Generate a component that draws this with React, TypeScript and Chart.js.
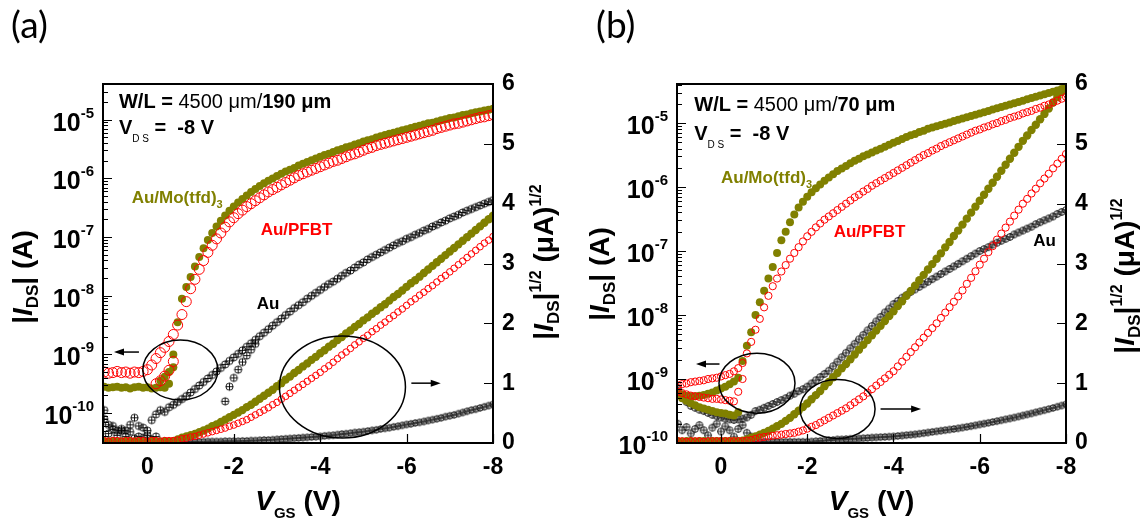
import React, { useEffect, useRef } from "react";
import { Chart, registerables } from "chart.js";
Chart.register(...registerables);

// ---------- shared axes ----------
const VGS = [
  1.0, 0.9, 0.8, 0.7, 0.6, 0.5, 0.4, 0.3, 0.2, 0.1,
  0.0, -0.1, -0.2, -0.3, -0.4, -0.5, -0.6, -0.7, -0.8, -0.9,
  -1.0, -1.1, -1.2, -1.3, -1.4, -1.5, -1.6, -1.7, -1.8, -1.9,
  -2.0, -2.1, -2.2, -2.3, -2.4, -2.5, -2.6, -2.7, -2.8, -2.9,
  -3.0, -3.1, -3.2, -3.3, -3.4, -3.5, -3.6, -3.7, -3.8, -3.9,
  -4.0, -4.1, -4.2, -4.3, -4.4, -4.5, -4.6, -4.7, -4.8, -4.9,
  -5.0, -5.1, -5.2, -5.3, -5.4, -5.5, -5.6, -5.7, -5.8, -5.9,
  -6.0, -6.1, -6.2, -6.3, -6.4, -6.5, -6.6, -6.7, -6.8, -6.9,
  -7.0, -7.1, -7.2, -7.3, -7.4, -7.5, -7.6, -7.7, -7.8, -7.9,
  -8.0,
];
const X_TICKS = [0, -2, -4, -6, -8];
const R_TICKS = [0, 1, 2, 3, 4, 5, 6];
const LOG_TICKS = [-10, -9, -8, -7, -6, -5];

// ---------- panel (a): log10 |I_DS| (A) ----------
const A_MO_LOG = [
  -9.55, -9.57, -9.56, -9.55, -9.57, -9.56, -9.58, -9.56, -9.55, -9.57,
  -9.56, -9.58, -9.57, -9.56, -9.57, -9.50, -9.00, -8.45, -8.05, -7.85,
  -7.68, -7.50, -7.34, -7.19, -7.05, -6.93, -6.82, -6.72, -6.63, -6.55,
  -6.48, -6.41, -6.35, -6.29, -6.23, -6.18, -6.13, -6.08, -6.04, -6.00,
  -5.96, -5.92, -5.88, -5.85, -5.82, -5.78, -5.75, -5.72, -5.69, -5.66,
  -5.63, -5.60, -5.58, -5.55, -5.52, -5.50, -5.47, -5.45, -5.42, -5.40,
  -5.37, -5.35, -5.33, -5.30, -5.28, -5.26, -5.24, -5.22, -5.20, -5.18,
  -5.16, -5.14, -5.12, -5.10, -5.08, -5.06, -5.05, -5.03, -5.01, -4.99,
  -4.97, -4.96, -4.94, -4.92, -4.91, -4.89, -4.87, -4.86, -4.84, -4.83,
  -4.81,
];
const A_PF_LOG = [
  -9.30, -9.32, -9.31, -9.29, -9.31, -9.30, -9.32, -9.30, -9.31, -9.29,
  -9.26, -9.18, -9.07, -8.97, -8.88, -8.78, -8.66, -8.50, -8.32, -8.10,
  -7.88, -7.72, -7.55, -7.40, -7.26, -7.14, -7.03, -6.93, -6.83, -6.74,
  -6.67, -6.60, -6.54, -6.48, -6.43, -6.38, -6.33, -6.28, -6.23, -6.19,
  -6.15, -6.11, -6.07, -6.03, -5.99, -5.95, -5.92, -5.89, -5.86, -5.83,
  -5.80, -5.77, -5.74, -5.71, -5.69, -5.66, -5.63, -5.60, -5.58, -5.55,
  -5.52, -5.49, -5.47, -5.44, -5.42, -5.40, -5.38, -5.36, -5.34, -5.32,
  -5.30, -5.28, -5.26, -5.24, -5.22, -5.20, -5.18, -5.15, -5.13, -5.11,
  -5.09, -5.07, -5.06, -5.04, -5.02, -5.00, -4.98, -4.96, -4.95, -4.93,
  -4.91,
];
const A_AU_LOG = [
  -9.95, -10.20, -10.28, -10.30, -10.27, -10.30, -10.20, -10.08, -10.22, -10.25,
  -10.30, -10.12, -10.02, -9.95, -9.98, -9.90, -9.86, -9.81, -9.76, -9.71,
  -9.65, -9.59, -9.53, -9.47, -9.41, -9.35, -9.29, -9.23, -9.17, -9.11,
  -9.05, -8.99, -8.93, -8.87, -8.81, -8.75, -8.69, -8.63, -8.57, -8.51,
  -8.45, -8.39, -8.33, -8.27, -8.21, -8.16, -8.11, -8.05, -8.00, -7.95,
  -7.90, -7.85, -7.80, -7.76, -7.71, -7.66, -7.61, -7.57, -7.52, -7.47,
  -7.43, -7.38, -7.34, -7.30, -7.26, -7.22, -7.18, -7.14, -7.10, -7.07,
  -7.03, -7.00, -6.96, -6.93, -6.89, -6.86, -6.82, -6.79, -6.75, -6.72,
  -6.68, -6.65, -6.62, -6.58, -6.55, -6.52, -6.49, -6.46, -6.43, -6.40,
  -6.37,
];
const A_MO_HOOK_V = [-0.3, -0.4, -0.5, -0.6];
const A_MO_HOOK = [-9.45, -9.38, -9.30, -9.22];
const A_PF_HOOK_V = [-0.2, -0.3, -0.4, -0.5, -0.6];
const A_PF_HOOK = [-9.50, -9.45, -9.37, -9.27, -9.12];
const A_AU_REV_V = [-1.8, -1.9, -2.0, -2.1, -2.2, -2.3, -2.4, -2.5];
const A_AU_REV = [-9.80, -9.55, -9.40, -9.26, -9.13, -9.02, -8.92, -8.82];
const A_AU_LOW_V = [1.0, 0.9, 0.8, 0.7, 0.6, 0.5, 0.4, 0.3, 0.2, 0.1, 0.0, -0.1, -0.2];
const A_AU_LOW = [-10.10, -10.35, -10.22, -10.38, -10.30, -10.40, -10.32, -10.43, -10.40, -10.42, -10.38, -10.45, -10.40];

// ---------- panel (a): |I_DS|^1/2 (uA)^1/2 ----------
const A_MO_SQ = [
  0.02, 0.02, 0.03, 0.02, 0.02, 0.03, 0.02, 0.02, 0.03, 0.02,
  0.02, 0.03, 0.02, 0.02, 0.03, 0.02, 0.03, 0.06, 0.09, 0.11,
  0.13, 0.15, 0.18, 0.21, 0.24, 0.28, 0.31, 0.35, 0.39, 0.43,
  0.47, 0.51, 0.55, 0.60, 0.64, 0.69, 0.74, 0.79, 0.84, 0.89,
  0.95, 1.00, 1.06, 1.11, 1.17, 1.22, 1.28, 1.33, 1.39, 1.44,
  1.50, 1.55, 1.61, 1.66, 1.72, 1.77, 1.83, 1.88, 1.94, 1.99,
  2.05, 2.10, 2.16, 2.21, 2.27, 2.32, 2.38, 2.44, 2.49, 2.55,
  2.61, 2.67, 2.72, 2.78, 2.84, 2.90, 2.96, 3.02, 3.08, 3.14,
  3.20, 3.26, 3.32, 3.38, 3.44, 3.50, 3.56, 3.62, 3.68, 3.74,
  3.80,
];
const A_PF_SQ = [
  0.04, 0.03, 0.04, 0.04, 0.03, 0.04, 0.04, 0.03, 0.04, 0.04,
  0.03, 0.04, 0.04, 0.03, 0.04, 0.04, 0.04, 0.05, 0.07, 0.08,
  0.10, 0.11, 0.13, 0.15, 0.17, 0.19, 0.21, 0.23, 0.25, 0.28,
  0.30, 0.33, 0.36, 0.39, 0.43, 0.47, 0.51, 0.55, 0.59, 0.64,
  0.68, 0.73, 0.78, 0.83, 0.88, 0.93, 0.98, 1.03, 1.08, 1.13,
  1.18, 1.24, 1.29, 1.35, 1.41, 1.47, 1.52, 1.58, 1.64, 1.69,
  1.75, 1.80, 1.86, 1.91, 1.97, 2.02, 2.08, 2.13, 2.19, 2.24,
  2.30, 2.36, 2.41, 2.47, 2.52, 2.58, 2.63, 2.69, 2.75, 2.80,
  2.86, 2.92, 2.98, 3.04, 3.10, 3.16, 3.22, 3.28, 3.34, 3.39,
  3.45,
];
const A_AU_SQ = [
  0.01, 0.02, 0.01, 0.01, 0.02, 0.01, 0.01, 0.02, 0.01, 0.01,
  0.01, 0.02, 0.01, 0.02, 0.01, 0.02, 0.02, 0.02, 0.02, 0.02,
  0.02, 0.02, 0.02, 0.02, 0.025, 0.025, 0.025, 0.025, 0.03, 0.03,
  0.03, 0.03, 0.035, 0.035, 0.04, 0.04, 0.045, 0.05, 0.05, 0.055,
  0.06, 0.065, 0.07, 0.075, 0.08, 0.085, 0.09, 0.095, 0.10, 0.105,
  0.11, 0.12, 0.125, 0.13, 0.14, 0.15, 0.155, 0.165, 0.175, 0.18,
  0.19, 0.20, 0.21, 0.22, 0.235, 0.245, 0.255, 0.27, 0.28, 0.295,
  0.31, 0.32, 0.335, 0.345, 0.36, 0.375, 0.39, 0.405, 0.42, 0.44,
  0.455, 0.47, 0.49, 0.51, 0.53, 0.55, 0.565, 0.585, 0.605, 0.625,
  0.645,
];

// ---------- panel (b): log10 |I_DS| (A) ----------
const B_MO_LOG = [
  -9.22, -9.24, -9.26, -9.27, -9.27, -9.26, -9.25, -9.23, -9.21, -9.18,
  -9.15, -9.12, -9.08, -9.04, -8.98, -8.72, -8.48, -8.27, -8.00, -7.80,
  -7.62, -7.43, -7.25, -7.03, -6.83, -6.70, -6.55, -6.43, -6.32, -6.23,
  -6.15, -6.08, -6.02, -5.96, -5.90, -5.85, -5.80, -5.75, -5.71, -5.67,
  -5.63, -5.59, -5.56, -5.52, -5.49, -5.46, -5.43, -5.40, -5.37, -5.34,
  -5.31, -5.28, -5.25, -5.22, -5.19, -5.17, -5.14, -5.12, -5.09, -5.07,
  -5.05, -5.03, -5.01, -4.99, -4.97, -4.95, -4.93, -4.91, -4.89, -4.87,
  -4.85, -4.83, -4.81, -4.79, -4.77, -4.75, -4.73, -4.71, -4.69, -4.67,
  -4.65, -4.63, -4.61, -4.59, -4.57, -4.55, -4.53, -4.51, -4.49, -4.47,
  -4.45,
];
const B_PF_LOG = [
  -9.10, -9.08, -9.07, -9.05, -9.04, -9.03, -9.02, -9.00, -8.99, -8.98,
  -8.96, -8.94, -8.92, -8.88, -8.83, -8.75, -8.60, -8.42, -8.23, -8.06,
  -7.88, -7.70, -7.55, -7.43, -7.32, -7.22, -7.12, -7.03, -6.94, -6.85,
  -6.77, -6.70, -6.63, -6.57, -6.51, -6.46, -6.41, -6.36, -6.31, -6.26,
  -6.21, -6.16, -6.12, -6.07, -6.03, -5.98, -5.94, -5.90, -5.86, -5.82,
  -5.78, -5.74, -5.70, -5.66, -5.62, -5.58, -5.54, -5.50, -5.47, -5.43,
  -5.40, -5.36, -5.33, -5.30, -5.27, -5.24, -5.21, -5.18, -5.15, -5.12,
  -5.10, -5.07, -5.05, -5.02, -5.00, -4.97, -4.95, -4.92, -4.90, -4.88,
  -4.85, -4.83, -4.81, -4.78, -4.76, -4.73, -4.71, -4.68, -4.65, -4.62,
  -4.59,
];
const B_AU_LOG = [
  -9.14, -9.28, -9.36, -9.42, -9.45, -9.48, -9.50, -9.53, -9.56, -9.58,
  -9.60, -9.62, -9.63, -9.64, -9.63, -9.62, -9.60, -9.56, -9.50, -9.48,
  -9.45, -9.42, -9.39, -9.36, -9.33, -9.30, -9.26, -9.23, -9.19, -9.16,
  -9.12, -9.07, -9.02, -8.97, -8.92, -8.87, -8.80, -8.73, -8.66, -8.59,
  -8.52, -8.45, -8.38, -8.31, -8.24, -8.17, -8.10, -8.03, -7.96, -7.90,
  -7.83, -7.78, -7.73, -7.69, -7.64, -7.60, -7.56, -7.52, -7.48, -7.44,
  -7.40, -7.36, -7.32, -7.28, -7.24, -7.20, -7.16, -7.12, -7.08, -7.04,
  -7.00, -6.97, -6.94, -6.90, -6.87, -6.84, -6.81, -6.78, -6.74, -6.71,
  -6.68, -6.65, -6.62, -6.58, -6.55, -6.52, -6.49, -6.46, -6.42, -6.39,
  -6.36,
];
const B_MO_LOW_V = [1.0, 0.9, 0.8, 0.7, 0.6, 0.5, 0.4, 0.3, 0.2, 0.1, 0.0, -0.1, -0.2, -0.3, -0.4];
const B_MO_LOW = [-9.25, -9.30, -9.34, -9.38, -9.41, -9.44, -9.46, -9.48, -9.50, -9.52, -9.53, -9.54, -9.56, -9.57, -9.52];
const B_PF_LOW_V = [1.0, 0.9, 0.8, 0.7, 0.6, 0.5, 0.4, 0.3, 0.2, 0.1, 0.0, -0.1, -0.2, -0.3, -0.4, -0.5];
const B_PF_LOW = [-9.20, -9.22, -9.24, -9.26, -9.27, -9.28, -9.29, -9.30, -9.31, -9.31, -9.32, -9.33, -9.34, -9.35, -9.20, -9.00];
const B_AU_LOW_V = [1.0, 0.9, 0.8, 0.7, 0.6, 0.5, 0.4, 0.3, 0.2, 0.1, 0.0, -0.1, -0.2, -0.3, -0.4, -0.5, -0.6, -0.7];
const B_AU_LOW = [-9.70, -9.80, -9.75, -9.85, -9.78, -9.72, -9.80, -9.88, -9.76, -9.70, -9.82, -9.74, -9.80, -9.90, -9.78, -9.72, -9.84, -9.90];

// ---------- panel (b): |I_DS|^1/2 ----------
const B_MO_SQ = [
  0.03, 0.02, 0.03, 0.03, 0.02, 0.03, 0.03, 0.02, 0.03, 0.03,
  0.03, 0.03, 0.03, 0.03, 0.03, 0.04, 0.06, 0.09, 0.11, 0.14,
  0.17, 0.20, 0.24, 0.28, 0.32, 0.37, 0.42, 0.48, 0.54, 0.60,
  0.66, 0.73, 0.80, 0.87, 0.95, 1.02, 1.10, 1.17, 1.25, 1.32,
  1.40, 1.48, 1.56, 1.64, 1.72, 1.80, 1.88, 1.96, 2.04, 2.12,
  2.20, 2.29, 2.37, 2.46, 2.54, 2.63, 2.72, 2.81, 2.90, 2.99,
  3.08, 3.17, 3.27, 3.36, 3.46, 3.55, 3.65, 3.75, 3.85, 3.95,
  4.05, 4.15, 4.25, 4.35, 4.45, 4.55, 4.65, 4.75, 4.85, 4.95,
  5.05, 5.14, 5.23, 5.32, 5.41, 5.50, 5.59, 5.69, 5.78, 5.87,
  5.96,
];
const B_PF_SQ = [
  0.03, 0.03, 0.02, 0.03, 0.03, 0.03, 0.02, 0.03, 0.03, 0.03,
  0.03, 0.03, 0.03, 0.03, 0.03, 0.03, 0.04, 0.05, 0.07, 0.09,
  0.10, 0.11, 0.12, 0.13, 0.14, 0.15, 0.16, 0.17, 0.19, 0.21,
  0.24, 0.27, 0.30, 0.34, 0.38, 0.42, 0.46, 0.50, 0.54, 0.58,
  0.63, 0.68, 0.73, 0.78, 0.84, 0.90, 0.96, 1.02, 1.08, 1.14,
  1.20, 1.28, 1.36, 1.44, 1.52, 1.60, 1.68, 1.76, 1.84, 1.92,
  2.00, 2.09, 2.18, 2.27, 2.36, 2.45, 2.55, 2.66, 2.76, 2.87,
  2.98, 3.08, 3.19, 3.29, 3.40, 3.50, 3.60, 3.70, 3.80, 3.90,
  4.00, 4.08, 4.17, 4.25, 4.34, 4.42, 4.50, 4.59, 4.67, 4.75,
  4.83,
];
const B_AU_SQ = [
  0.02, 0.01, 0.02, 0.02, 0.01, 0.02, 0.02, 0.01, 0.02, 0.02,
  0.02, 0.01, 0.02, 0.02, 0.02, 0.02, 0.02, 0.02, 0.02, 0.02,
  0.02, 0.02, 0.02, 0.02, 0.02, 0.02, 0.02, 0.02, 0.02, 0.02,
  0.02, 0.025, 0.03, 0.035, 0.04, 0.05, 0.05, 0.06, 0.06, 0.065,
  0.07, 0.072, 0.076, 0.08, 0.085, 0.09, 0.094, 0.098, 0.102, 0.106,
  0.11, 0.117, 0.124, 0.131, 0.138, 0.145, 0.155, 0.165, 0.175, 0.185,
  0.195, 0.205, 0.215, 0.225, 0.235, 0.245, 0.257, 0.27, 0.282, 0.295,
  0.31, 0.323, 0.337, 0.351, 0.365, 0.38, 0.395, 0.41, 0.426, 0.442,
  0.46, 0.477, 0.494, 0.512, 0.53, 0.548, 0.567, 0.586, 0.606, 0.626,
  0.646,
];

// ---------- styling ----------
const OLIVE = "#808000";
const RED = "#ff0000";
const FONT = "'Liberation Sans', Arial, Helvetica, sans-serif";
const fnt = (size: number, weight = "bold", style = "normal") => `${style} ${weight} ${size}px ${FONT}`;

type Part = { t: string; font: string; dy?: number; color?: string };

function partsWidth(ctx: CanvasRenderingContext2D, parts: Part[]) {
  let w = 0;
  for (const p of parts) {
    ctx.font = p.font;
    w += ctx.measureText(p.t).width;
  }
  return w;
}
function drawParts(ctx: CanvasRenderingContext2D, parts: Part[], x: number, y: number, align: "left" | "center" | "right") {
  const w = partsWidth(ctx, parts);
  let cx = align === "left" ? x : align === "center" ? x - w / 2 : x - w;
  ctx.textAlign = "left";
  ctx.textBaseline = "alphabetic";
  for (const p of parts) {
    ctx.font = p.font;
    ctx.fillStyle = p.color || "#000";
    ctx.fillText(p.t, cx, y + (p.dy || 0));
    cx += ctx.measureText(p.t).width;
  }
}

function oplus(r: number): HTMLCanvasElement {
  const s = Math.ceil(2 * r + 3);
  const c = document.createElement("canvas");
  c.width = s;
  c.height = s;
  const g = c.getContext("2d")!;
  g.strokeStyle = "#000";
  g.lineWidth = 0.9;
  const m = s / 2;
  g.beginPath();
  g.arc(m, m, r, 0, Math.PI * 2);
  g.stroke();
  g.beginPath();
  g.moveTo(m - r, m);
  g.lineTo(m + r, m);
  g.moveTo(m, m - r);
  g.lineTo(m, m + r);
  g.stroke();
  return c;
}

const pts = (vs: number[], ys: number[], log: boolean) =>
  vs.map((v, i) => ({ x: v, y: log ? Math.pow(10, ys[i]) : ys[i] }));

type Series = { v: number[]; y: number[]; log: boolean; kind: "red" | "olive" | "black"; r: number };

type PanelCfg = {
  left: number;
  label: string;
  labelX: number;
  wlBold: string;
  xMax: number;
  logMin: number;
  logMax: number;
  rightWidth: number;
  leftTitle: [number, number];
  rightTitle: [number, number];
  series: Series[];
  pos: { wl: [number, number]; vds: [number, number]; mo: [number, number]; pf: [number, number]; au: [number, number] };
  ellipses: { x: number; y: number; rx: number; ry: number }[];
  arrows: { x1: number; x2: number; y: number }[];
};

const PANEL_A: PanelCfg = {
  left: 0,
  label: "(a)",
  labelX: 11,
  wlBold: "190 μm",
  xMax: 1.028,
  logMin: -10.51,
  logMax: -4.39,
  rightWidth: 81,
  leftTitle: [32, 277],
  rightTitle: [553, 262],
  series: [
    { v: VGS, y: A_PF_LOG, log: true, kind: "red", r: 5 },
    { v: A_PF_HOOK_V, y: A_PF_HOOK, log: true, kind: "red", r: 5 },
    { v: VGS, y: A_PF_SQ, log: false, kind: "red", r: 3.3 },
    { v: VGS, y: A_MO_LOG, log: true, kind: "olive", r: 4 },
    { v: A_MO_HOOK_V, y: A_MO_HOOK, log: true, kind: "olive", r: 4 },
    { v: VGS, y: A_MO_SQ, log: false, kind: "olive", r: 4.2 },
    { v: VGS, y: A_AU_LOG, log: true, kind: "black", r: 3.6 },
    { v: A_AU_REV_V, y: A_AU_REV, log: true, kind: "black", r: 3.6 },
    { v: A_AU_LOW_V, y: A_AU_LOW, log: true, kind: "black", r: 3.6 },
    { v: VGS, y: A_AU_SQ, log: false, kind: "black", r: 3.2 },
  ],
  pos: { wl: [0.658, 5.6], vds: [0.658, 5.165], mo: [0.365, 4.011], pf: [-2.621, 3.477], au: [-2.529, 2.24] },
  ellipses: [
    { x: -0.762, y: 1.22, rx: 37.5, ry: 30 },
    { x: -4.515, y: 0.936, rx: 63, ry: 51 },
  ],
  arrows: [
    { x1: 0.196, x2: 0.774, y: 1.52 },
    { x1: -6.11, x2: -6.79, y: 1.0 },
  ],
};

const PANEL_B: PanelCfg = {
  left: 574,
  label: "(b)",
  labelX: 22,
  wlBold: "70 μm",
  xMax: 1.02,
  logMin: -10,
  logMax: -4.39,
  rightWidth: 82,
  leftTitle: [35, 274],
  rightTitle: [560, 276],
  series: [
    { v: VGS, y: B_PF_LOG, log: true, kind: "red", r: 3.6 },
    { v: B_PF_LOW_V, y: B_PF_LOW, log: true, kind: "red", r: 3.6 },
    { v: VGS, y: B_PF_SQ, log: false, kind: "red", r: 3.6 },
    { v: VGS, y: B_MO_LOG, log: true, kind: "olive", r: 4 },
    { v: B_MO_LOW_V, y: B_MO_LOW, log: true, kind: "olive", r: 4 },
    { v: VGS, y: B_MO_SQ, log: false, kind: "olive", r: 4.2 },
    { v: VGS, y: B_AU_LOG, log: true, kind: "black", r: 3.4 },
    { v: B_AU_LOW_V, y: B_AU_LOW, log: true, kind: "black", r: 3.4 },
    { v: VGS, y: B_AU_SQ, log: false, kind: "black", r: 3.2 },
  ],
  pos: { wl: [0.62, 5.549], vds: [0.62, 5.07], mo: [0.0, 4.346], pf: [-2.613, 3.443], au: [-7.239, 3.293] },
  ellipses: [
    { x: -0.835, y: 1.0, rx: 38, ry: 30 },
    { x: -2.703, y: 0.568, rx: 37.5, ry: 29.5 },
  ],
  arrows: [
    { x1: 0.035, x2: 0.58, y: 1.32 },
    { x1: -3.7, x2: -4.64, y: 0.568 },
  ],
};

function Panel({ cfg }: { cfg: PanelCfg }) {
  const ref = useRef<HTMLCanvasElement>(null);
  useEffect(() => {
    const canvas = ref.current!;
    const datasets = cfg.series.map((s) => {
      const base: any = {
        data: pts(s.v, s.y, s.log),
        yAxisID: s.log ? "yL" : "yR",
        showLine: false,
        pointRadius: s.r,
        pointHoverRadius: s.r,
      };
      if (s.kind === "red") {
        base.pointStyle = "circle";
        base.pointBackgroundColor = "rgba(0,0,0,0)";
        base.pointBorderColor = RED;
        base.pointBorderWidth = 1;
      } else if (s.kind === "olive") {
        base.pointStyle = "circle";
        base.pointBackgroundColor = OLIVE;
        base.pointBorderColor = OLIVE;
        base.pointBorderWidth = 0;
      } else {
        base.pointStyle = oplus(s.r);
      }
      return base;
    });

    const deco = {
      id: "deco",
      afterDraw(chart: any) {
        const { ctx, chartArea: ca, scales } = chart;
        const xs = scales.x, yl = scales.yL, yr = scales.yR;
        const X = (v: number) => xs.getPixelForValue(v);
        const Y = (s: number) => yr.getPixelForValue(s);
        ctx.save();
        ctx.strokeStyle = "#000";
        ctx.fillStyle = "#000";
        // frame
        ctx.lineWidth = 2;
        ctx.strokeRect(ca.left, ca.top, ca.right - ca.left, ca.bottom - ca.top);
        // left log ticks (inward)
        ctx.lineWidth = 1.2;
        ctx.beginPath();
        for (let d = -11; d <= -4; d++) {
          for (let m = 1; m <= 9; m++) {
            const lv = d + Math.log10(m);
            if (lv < cfg.logMin || lv > cfg.logMax) continue;
            const y = Math.round(yl.getPixelForValue(Math.pow(10, lv))) + 0.5;
            const len = m === 1 ? 9 : 5;
            ctx.moveTo(ca.left, y);
            ctx.lineTo(ca.left + len, y);
          }
        }
        // right ticks
        for (const s of R_TICKS) {
          if (s === 0 || s === 6) continue;
          const y = Math.round(Y(s)) + 0.5;
          ctx.moveTo(ca.right, y);
          ctx.lineTo(ca.right - 9, y);
        }
        // bottom ticks
        for (const v of X_TICKS) {
          const x = Math.round(X(v)) + 0.5;
          ctx.moveTo(x, ca.bottom);
          ctx.lineTo(x, ca.bottom - 9);
        }
        ctx.stroke();

        // left tick labels 10^n
        for (const d of LOG_TICKS) {
          const y = yl.getPixelForValue(Math.pow(10, d));
          drawParts(ctx, [
            { t: "10", font: fnt(25), dy: 11 },
            { t: String(d), font: fnt(15), dy: -2 },
          ], ca.left - 9, y, "right");
        }

        // axis titles
        ctx.save();
        ctx.translate(cfg.leftTitle[0], cfg.leftTitle[1]);
        ctx.rotate(-Math.PI / 2);
        drawParts(ctx, [
          { t: "|", font: fnt(28) },
          { t: "I", font: fnt(28, "bold", "italic") },
          { t: "DS", font: fnt(17), dy: 6 },
          { t: "| (A)", font: fnt(28) },
        ], 0, 0, "center");
        ctx.restore();

        ctx.save();
        ctx.translate(cfg.rightTitle[0], cfg.rightTitle[1]);
        ctx.rotate(-Math.PI / 2);
        drawParts(ctx, [
          { t: "|", font: fnt(28) },
          { t: "I", font: fnt(28, "bold", "italic") },
          { t: "DS", font: fnt(17), dy: 6 },
          { t: "|", font: fnt(28) },
          { t: "1/2", font: fnt(16), dy: -12 },
          { t: " (μA)", font: fnt(28) },
          { t: "1/2", font: fnt(16), dy: -12 },
        ], 0, 0, "center");
        ctx.restore();

        drawParts(ctx, [
          { t: "V", font: fnt(28, "bold", "italic") },
          { t: "GS", font: fnt(15), dy: 8 },
          { t: " (V)", font: fnt(28) },
        ], (ca.left + ca.right) / 2, 510, "center");

        // panel label
        drawParts(ctx, [{ t: cfg.label, font: "normal 400 37px Lato, 'Open Sans', sans-serif" }], cfg.labelX, 38, "left");

        // in-plot texts
        const P = cfg.pos;
        drawParts(ctx, [
          { t: "W/L = ", font: fnt(20) },
          { t: "4500 μm/", font: fnt(20, "normal") },
          { t: cfg.wlBold, font: fnt(20) },
        ], X(P.wl[0]), Y(P.wl[1]), "left");
        drawParts(ctx, [
          { t: "V", font: fnt(20) },
          { t: "D S", font: fnt(10, "normal"), dy: 8.5 },
          { t: " =  -8 V", font: fnt(20) },
        ], X(P.vds[0]), Y(P.vds[1]), "left");
        drawParts(ctx, [
          { t: "Au/Mo(tfd)", font: fnt(17), color: OLIVE },
          { t: "3", font: fnt(11), dy: 5, color: OLIVE },
        ], X(P.mo[0]), Y(P.mo[1]), "left");
        drawParts(ctx, [{ t: "Au/PFBT", font: fnt(17), color: RED }], X(P.pf[0]), Y(P.pf[1]), "left");
        drawParts(ctx, [{ t: "Au", font: fnt(17) }], X(P.au[0]), Y(P.au[1]), "left");

        // ellipses & arrows
        ctx.lineWidth = 1.5;
        for (const e of cfg.ellipses) {
          ctx.beginPath();
          ctx.ellipse(X(e.x), Y(e.y), e.rx, e.ry, 0, 0, Math.PI * 2);
          ctx.stroke();
        }
        for (const a of cfg.arrows) {
          const x1 = X(a.x1), x2 = X(a.x2), y = Y(a.y);
          const dir = Math.sign(x2 - x1);
          ctx.beginPath();
          ctx.moveTo(x1, y);
          ctx.lineTo(x2 - dir * 6, y);
          ctx.stroke();
          ctx.beginPath();
          ctx.moveTo(x2, y);
          ctx.lineTo(x2 - dir * 10, y - 3.5);
          ctx.lineTo(x2 - dir * 10, y + 3.5);
          ctx.closePath();
          ctx.fill();
        }
        ctx.restore();
      },
    };

    const chart = new Chart(canvas, {
      type: "scatter",
      data: { datasets },
      options: {
        animation: false,
        responsive: false,
        devicePixelRatio: 1,
        events: [],
        layout: { padding: { top: 84, left: 0, right: 0, bottom: 0 } },
        plugins: { legend: { display: false }, tooltip: { enabled: false }, title: { display: false } },
        scales: {
          x: {
            type: "linear",
            position: "bottom",
            reverse: true,
            min: -8,
            max: cfg.xMax,
            afterBuildTicks: (s: any) => {
              s.ticks = X_TICKS.map((v) => ({ value: v }));
            },
            afterFit: (s: any) => {
              s.height = 88;
            },
            grid: { display: false, drawTicks: false },
            border: { display: false },
            ticks: { color: "#000", font: { family: FONT, size: 23, weight: "bold" }, padding: 11, maxRotation: 0, autoSkip: false },
          },
          yL: {
            type: "logarithmic",
            position: "left",
            min: Math.pow(10, cfg.logMin),
            max: Math.pow(10, cfg.logMax),
            afterFit: (s: any) => {
              s.width = 103;
            },
            grid: { display: false, drawTicks: false },
            border: { display: false },
            ticks: { display: false },
          },
          yR: {
            type: "linear",
            position: "right",
            min: 0,
            max: 6,
            afterBuildTicks: (s: any) => {
              s.ticks = R_TICKS.map((v) => ({ value: v }));
            },
            afterFit: (s: any) => {
              s.width = cfg.rightWidth;
            },
            grid: { display: false, drawTicks: false },
            border: { display: false },
            ticks: { color: "#000", font: { family: FONT, size: 23, weight: "bold" }, padding: 9, autoSkip: false },
          },
        },
      } as any,
      plugins: [deco as any],
    });
    return () => chart.destroy();
  }, [cfg]);
  return (
    <canvas
      ref={ref}
      width={574}
      height={531}
      style={{ position: "absolute", left: cfg.left, top: 0, width: 574, height: 531 }}
    />
  );
}

export default function App() {
  return (
    <div style={{ position: "absolute", left: 0, top: 0, width: 1148, height: 531, background: "#fff", overflow: "hidden" }}>
      <Panel cfg={PANEL_A} />
      <Panel cfg={PANEL_B} />
    </div>
  );
}
